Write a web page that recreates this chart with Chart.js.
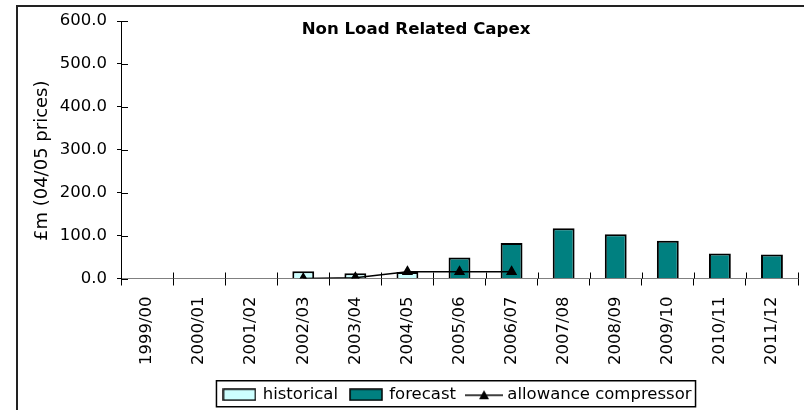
<!DOCTYPE html>
<html>
<head>
<meta charset="utf-8">
<script src="https://cdn.jsdelivr.net/npm/chart.js@4/dist/chart.umd.min.js"></script>
<style>
  html, body { margin: 0; padding: 0; background: #fff; overflow: hidden; }
  #frame {
    position: absolute; left: 16px; top: 5px;
    width: 880px; height: 440px;
    border: 2px solid #222;
  }
  #myChart { display: block; }
</style>
</head>
<body>
<div id="frame"><canvas id="myChart" width="880" height="440"></canvas></div>
<script>
const chartTitle = 'Non Load Related Capex';
const yTitle = '£m (04/05 prices)';
const years = ['1999/00', '2000/01', '2001/02', '2002/03', '2003/04', '2004/05', '2005/06',
               '2006/07', '2007/08', '2008/09', '2009/10', '2010/11', '2011/12'];
const historical = [null, null, null, 17, 12, 15, null, null, null, null, null, null, null];
const forecast = [null, null, null, null, null, null, 49, 83, 117, 103, 88, 58, 56];
const allowance = [null, null, null, 0, 2, 16, 16, 16, null, null, null, null, null];
const yTicks = [0, 100, 200, 300, 400, 500, 600];

const FONT = 'DejaVu Sans, Verdana, sans-serif';
const FS = 16.5;

// petites icônes pour la légende
function swatch(fill) {
    const c = document.createElement('canvas');
    c.width = 34; c.height = 13;
    const g = c.getContext('2d');
    g.fillStyle = fill;
    g.fillRect(1, 1, 32, 11);
    g.strokeStyle = '#000';
    g.lineWidth = 1.5;
    g.strokeRect(1, 1, 32, 11);
    return c;
}
function lineIcon() {
    const c = document.createElement('canvas');
    c.width = 38; c.height = 13;
    const g = c.getContext('2d');
    g.strokeStyle = '#000';
    g.lineWidth = 1.5;
    g.beginPath(); g.moveTo(0, 7); g.lineTo(38, 7); g.stroke();
    g.fillStyle = '#000';
    g.beginPath(); g.moveTo(19, 2); g.lineTo(24, 11); g.lineTo(14, 11); g.closePath(); g.fill();
    return c;
}
const icons = [swatch('#CCFFFF'), swatch('#008080'), lineIcon()];

// titre, titre de l'axe Y, petits traits vers l'intérieur, cadre de la légende
const extras = {
    id: 'extras',
    afterLayout(chart) {
        // la légende est centrée sur tout le cadre, pas seulement sur la zone utile
        chart.legend.left += 50;
        chart.legend.right += 50;
    },
    afterDraw(chart) {
        const ctx = chart.ctx;
        const x = chart.scales.x, y = chart.scales.y;
        ctx.save();
        ctx.strokeStyle = '#000';
        ctx.lineWidth = 1;
        yTicks.forEach(v => {
            const py = Math.round(y.getPixelForValue(v)) + 0.5;
            ctx.beginPath(); ctx.moveTo(x.left, py); ctx.lineTo(x.left + 7, py); ctx.stroke();
        });
        const base = y.getPixelForValue(0);
        const half = (x.getPixelForValue(1) - x.getPixelForValue(0)) / 2;
        for (let i = 0; i <= years.length; i++) {
            const px = Math.round(x.getPixelForValue(i) - half) + 0.5;
            ctx.beginPath(); ctx.moveTo(px, base); ctx.lineTo(px, base - 6); ctx.stroke();
        }

        ctx.fillStyle = '#000';
        ctx.font = 'bold 16.6px ' + FONT;
        ctx.textAlign = 'center';
        ctx.textBaseline = 'middle';
        ctx.fillText(chartTitle, 398, 23);

        ctx.save();
        ctx.translate(24, (y.top + y.bottom) / 2 + 11);
        ctx.rotate(-Math.PI / 2);
        ctx.font = '18px ' + FONT;
        ctx.fillText(yTitle, 0, 0);
        ctx.restore();

        const hb = chart.legend.legendHitBoxes;
        if (hb && hb.length) {
            const left = Math.min(...hb.map(h => h.left)) - 8;
            const right = Math.max(...hb.map(h => h.left + h.width)) + 4;
            const cy = hb[0].top + hb[0].height / 2;
            ctx.lineWidth = 1.5;
            ctx.strokeRect(left, cy - 14, right - left, 26);
        }
        ctx.restore();
    }
};

new Chart(document.getElementById('myChart'), {
    type: 'bar',
    data: {
        labels: years,
        datasets: [{
            label: 'historical',
            data: historical,
            backgroundColor: '#CCFFFF',
            borderColor: '#000',
            borderWidth: 2,
            grouped: false,
            categoryPercentage: 1,
            barPercentage: 0.42,
            order: 1
        }, {
            label: 'forecast',
            data: forecast,
            backgroundColor: '#008080',
            borderColor: '#000',
            borderWidth: 2,
            grouped: false,
            categoryPercentage: 1,
            barPercentage: 0.42,
            order: 1
        }, {
            type: 'line',
            label: 'allowance compressor',
            data: allowance,
            borderColor: '#000',
            backgroundColor: '#000',
            borderWidth: 1.5,
            pointStyle: 'triangle',
            pointRadius: 5,
            tension: 0,
            spanGaps: false,
            order: 0
        }]
    },
    options: {
        responsive: false,
        animation: false,
        layout: { padding: { left: 0, right: 100, top: 14, bottom: 34 } },
        plugins: {
            tooltip: { enabled: false },
            legend: {
                position: 'bottom',
                labels: {
                    usePointStyle: true,
                    pointStyleWidth: 30,
                    padding: 13,
                    color: '#000',
                    font: { family: FONT, size: FS },
                    sort: (a, b) => a.datasetIndex - b.datasetIndex,
                    generateLabels(chart) {
                        const items = Chart.defaults.plugins.legend.labels.generateLabels(chart);
                        items.forEach(it => { it.pointStyle = icons[it.datasetIndex]; });
                        return items;
                    }
                }
            }
        },
        scales: {
            x: {
                grid: { drawOnChartArea: false, tickLength: 7, color: '#000', offset: true },
                border: { color: '#808080', width: 1 },
                ticks: {
                    color: '#000', font: { family: FONT, size: FS },
                    minRotation: 90, maxRotation: 90, padding: 11, autoSkip: false
                },
                afterFit(scale) { scale.height = 95; }
            },
            y: {
                min: 0, max: 600,
                grid: { drawOnChartArea: false, tickLength: 4, color: '#000' },
                border: { color: '#000', width: 1 },
                ticks: {
                    stepSize: 100, color: '#000', padding: 10,
                    font: { family: FONT, size: FS },
                    callback: v => v.toFixed(1)
                },
                afterFit(scale) {
                    scale.width = 103;
                    scale.paddingTop = 0;
                    scale.paddingBottom = 0;
                }
            }
        }
    },
    plugins: [extras]
});
</script>
</body>
</html>
